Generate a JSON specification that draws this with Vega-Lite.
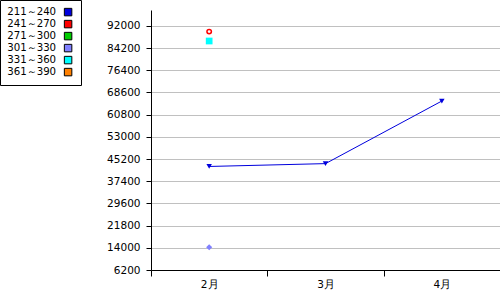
{
  "$schema": "https://vega.github.io/schema/vega-lite/v6.json",
  "width": 349,
  "height": 260,
  "autosize": {"type": "none"},
  "padding": {"left": 151, "top": 10, "right": 0, "bottom": 30},
  "background": "white",
  "config": {
    "view": {"stroke": null},
    "font": "DejaVu Sans",
    "axis": {"labelFont": "DejaVu Sans", "labelFontSize": 10.5, "labelColor": "black", "domainColor": "black", "tickColor": "black", "gridColor": "#c0c0c0", "gridWidth": 1}
  },
  "data": {
    "values": [
      {"month": "2月", "series": "211～240", "value": 42600},
      {"month": "3月", "series": "211～240", "value": 43600},
      {"month": "4月", "series": "211～240", "value": 65600},
      {"month": "2月", "series": "241～270", "value": 90000},
      {"month": "2月", "series": "301～330", "value": 14200},
      {"month": "2月", "series": "331～360", "value": 86700}
    ]
  },
  "encoding": {
    "x": {
      "field": "month", "type": "nominal", "sort": ["2月", "3月", "4月"],
      "scale": {"type": "band", "domain": ["2月", "3月", "4月"], "paddingInner": 0, "paddingOuter": 0},
      "axis": {"title": null, "labelAngle": 0, "tickBand": "extent", "tickSize": 6, "labelPadding": 3, "grid": false, "domainWidth": 1}
    },
    "y": {
      "field": "value", "type": "quantitative",
      "scale": {"domain": [6200, 97600], "nice": false, "zero": false},
      "axis": {"title": null, "values": [6200, 14000, 21800, 29600, 37400, 45200, 53000, 60800, 68600, 76400, 84200, 92000], "tickSize": 5, "labelPadding": 6, "grid": true, "format": "d"}
    }
  },
  "layer": [
    {
      "transform": [{"filter": "datum.series === '211～240'"}],
      "mark": {"type": "line", "color": "#0000dd", "strokeWidth": 1}
    },
    {
      "transform": [{"filter": "datum.series !== '241～270'"}],
      "mark": {"type": "point", "filled": true, "opacity": 1},
      "encoding": {
        "color": {
          "field": "series", "type": "nominal",
          "scale": {"domain": ["211～240", "241～270", "271～300", "301～330", "331～360", "361～390"], "range": ["#0000dd", "#ff0000", "#00cc00", "#8080ff", "#00ffff", "#ff8000"]},
          "legend": {
            "title": null, "orient": "none", "legendX": -151, "legendY": -10,
            "padding": 7, "strokeColor": "black", "fillColor": "white",
            "labelFont": "DejaVu Sans", "labelFontSize": 10.2, "labelColor": "black",
            "labelOffset": -66, "symbolOffset": 56, "rowPadding": 0,
            "symbolType": "square", "symbolSize": 56, "symbolStrokeColor": "black", "symbolStrokeWidth": 1,
            "encode": {"symbols": {"update": {"stroke": {"value": "black"}, "strokeWidth": {"value": 1}, "shape": {"value": "square"}, "size": {"value": 56}, "opacity": {"value": 1}}}}
          }
        },
        "shape": {
          "field": "series", "type": "nominal",
          "scale": {"domain": ["211～240", "301～330", "331～360"], "range": ["triangle-down", "diamond", "square"]},
          "legend": null
        },
        "size": {
          "field": "series", "type": "nominal",
          "scale": {"domain": ["211～240", "301～330", "331～360"], "range": [30, 45, 60]},
          "legend": null
        }
      }
    },
    {
      "transform": [{"filter": "datum.series === '241～270'"}],
      "mark": {"type": "point", "filled": false, "shape": "circle", "color": "#ff0000", "size": 20, "strokeWidth": 1.5, "opacity": 1}
    }
  ]
}
